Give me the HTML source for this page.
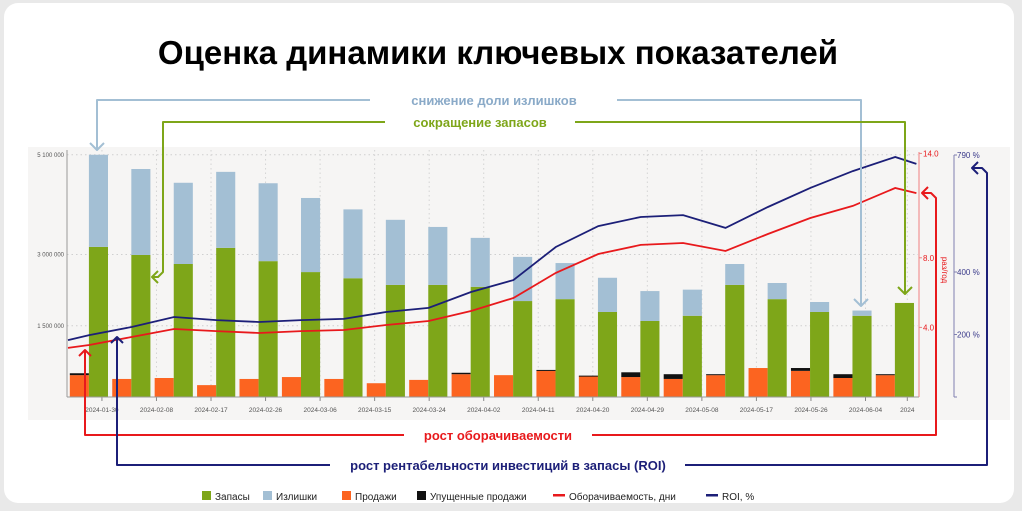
<!DOCTYPE html>
<html><head><meta charset="utf-8">
<style>
html,body{margin:0;padding:0;background:#e9e9e9;}
body{width:1022px;height:511px;overflow:hidden;position:relative;font-family:"Liberation Sans",Arial,sans-serif;}
#card{position:absolute;left:4px;top:3px;width:1010px;height:500px;background:#fff;border-radius:14px;}
svg{position:absolute;left:0;top:0;}
</style></head>
<body>
<div id="card"></div>
<svg id="chart" width="1022" height="511"></svg>
<script>
const weeks = 20;
const stockM = [3.16,2.99,2.80,3.14,2.86,2.63,2.50,2.36,2.36,2.32,2.02,2.06,1.79,1.60,1.71,2.36,2.06,1.79,1.71,1.98];
const excessM = [1.94,1.81,1.71,1.60,1.64,1.56,1.45,1.37,1.22,1.03,0.93,0.76,0.72,0.63,0.55,0.44,0.34,0.21,0.11,0];
const salesM = [0.46,0.38,0.40,0.25,0.38,0.42,0.38,0.29,0.36,0.48,0.46,0.55,0.44,0.42,0.38,0.46,0.61,0.55,0.40,0.46];
const lostM = [0.04,0,0,0,0,0,0,0,0,0.03,0,0.02,0.01,0.1,0.1,0.02,0,0.06,0.08,0.02];
const turnover = [2.82,2.99,3.45,3.91,3.79,3.68,3.79,3.85,4.14,4.37,4.94,5.69,7.13,8.22,8.74,8.85,8.39,9.37,10.29,10.98,12.01,11.72];
const roi = [182,198,224,256,246,240,246,250,272,285,336,374,480,547,576,582,541,608,669,723,768,746];
const leftTicks = [1500000,3000000,5100000];
const leftTickLabels = ["1 500 000","3 000 000","5 100 000"];
const turnTicks = [4,8,14];
const turnTickLabels = ["4.0","8.0","14.0"];
const roiTicks = [200,400,790];
const roiTickLabels = ["200 %","400 %","790 %"];
const dateLabels = ["2024-01-30","2024-02-08","2024-02-17","2024-02-26","2024-03-06","2024-03-15","2024-03-24","2024-04-02","2024-04-11","2024-04-20","2024-04-29","2024-05-08","2024-05-17","2024-05-26","2024-06-04","2024"];

const svg = document.getElementById('chart');
const NS = 'http://www.w3.org/2000/svg';
function mk(tag, attrs, parent){const e=document.createElementNS(NS,tag);for(const k in attrs)e.setAttribute(k,attrs[k]);(parent||svg).appendChild(e);return e;}
const X0=68, PX_DAY=6.06, Y0=397;
const x = d => X0 + d*PX_DAY;
const yM = v => Y0 - v*47.5;
const yT = v => Y0 - v*17.4;
const yR = v => Y0 - v*0.3125;

let e = mk('rect',{x:28,y:147,width:982,height:273,fill:'#f6f5f4'});



leftTicks.forEach((t,i)=>{
  let g = mk('line',{x1:67,x2:918,y1:yM(t/1e6),y2:yM(t/1e6),stroke:'#cfcfcf','stroke-dasharray':'1.5 3'});
  
  
  let l = mk('text',{x:64,y:yM(t/1e6)+2,'font-size':6,fill:'#555','text-anchor':'end'});
  l.textContent = leftTickLabels[i];
  
  
});
dateLabels.forEach((s,i)=>{
  const d = i<15 ? 5.6+9*i : 138.5;
  const xx = x(d);
  let g = mk('line',{x1:xx,x2:xx,y1:150,y2:397,stroke:'#d4d4d4','stroke-dasharray':'1.5 3'});
  
  
  mk('line',{x1:xx,x2:xx,y1:397,y2:401,stroke:'#888'});
  let l = mk('text',{x:xx,y:412,'font-size':6.5,fill:'#555','text-anchor':'middle'});
  l.textContent = s;
  
  
});

for(let k=0;k<weeks;k++){
  const d0=7*k;
  let o = mk('rect',{x:x(d0+0.3),y:yM(salesM[k]),width:x(d0+3.45)-x(d0+0.3),height:Y0-yM(salesM[k]),fill:'#fc6420'});
  
  
  if(lostM[k]>0){
    let b = mk('rect',{x:x(d0+0.3),y:yM(salesM[k]+lostM[k]),width:x(d0+3.45)-x(d0+0.3),height:Math.max(1,yM(salesM[k])-yM(salesM[k]+lostM[k])),fill:'#111'});
    
    
  }
  let g = mk('rect',{x:x(d0+3.45),y:yM(stockM[k]),width:x(d0+6.6)-x(d0+3.45),height:Y0-yM(stockM[k]),fill:'#7ea619'});
  
  
  if(excessM[k]>0){
    let b = mk('rect',{x:x(d0+3.45),y:yM(stockM[k]+excessM[k]),width:x(d0+6.6)-x(d0+3.45),height:yM(stockM[k])-yM(stockM[k]+excessM[k]),fill:'#a3bfd4'});
    
    
  }
}
const lineDays = [0].concat(Array.from({length:weeks},(_,k)=>7*k+3.5)).concat([140]);
function poly(vals, yf, color, name){
  const pts = vals.map((v,i)=>x(lineDays[i]).toFixed(1)+','+yf(v).toFixed(1)).join(' ');
  let p = mk('polyline',{points:pts,fill:'none',stroke:color,'stroke-width':1.8});
  
  
}
poly(turnover,yT,'#e8191c','turnover-line');
poly(roi,yR,'#1c1f78','roi-line');

mk('line',{x1:67,x2:67,y1:150,y2:397,stroke:'#999'});
mk('line',{x1:67,x2:919,y1:397,y2:397,stroke:'#999'});
mk('line',{x1:919,x2:919,y1:152,y2:397,stroke:'#f08080'});
turnTicks.forEach((t,i)=>{
  mk('line',{x1:919,x2:922,y1:yT(t),y2:yT(t),stroke:'#f08080'});
  let l = mk('text',{x:923,y:yT(t)+3,'font-size':8,fill:'#e8191c'});
  l.textContent = turnTickLabels[i];
  
  
});
let rl = mk('text',{x:0,y:0,'font-size':8,fill:'#e8191c','text-anchor':'middle',transform:'translate(942,270) rotate(90)'});
rl.textContent='раз/год';


mk('line',{x1:954,x2:954,y1:155,y2:397,stroke:'#8080b0'});
mk('line',{x1:954,x2:957,y1:397,y2:397,stroke:'#8080b0'});
roiTicks.forEach((t,i)=>{
  const yy = i==2?155:yR(t);
  mk('line',{x1:954,x2:957,y1:yy,y2:yy,stroke:'#8080b0'});
  let l = mk('text',{x:957,y:yy+3,'font-size':8,fill:'#3a3a8a'});
  l.textContent = roiTickLabels[i];
  
  
});
</script>
<svg width="1022" height="511" style="font-family:'Liberation Sans',Arial,sans-serif">
<text x="498" y="64" font-size="33" font-weight="bold" text-anchor="middle" fill="#000">Оценка динамики ключевых показателей</text>
<g fill="none" stroke-width="2" stroke-linejoin="round">
<polyline stroke="#a3bfd4" points="370,100 97,100 97,150"/>
<polyline stroke="#a3bfd4" points="90,143 97,150 104,143"/>
<polyline stroke="#a3bfd4" points="617,100 861,100 861,306"/>
<polyline stroke="#a3bfd4" points="854,299 861,306 868,299"/>
<polyline stroke="#7ea619" points="385,122 163,122 163,272 158,277 152,277"/>
<polyline stroke="#7ea619" points="158,271 152,277 158,283"/>
<polyline stroke="#7ea619" points="575,122 905,122 905,294"/>
<polyline stroke="#7ea619" points="898,287 905,294 912,287"/>
<polyline stroke="#e8191c" points="404,435 85,435 85,350"/>
<polyline stroke="#e8191c" points="79,356 85,350 91,356"/>
<polyline stroke="#e8191c" points="592,435 936,435 936,198 931,193 922,193"/>
<polyline stroke="#e8191c" points="928,187 922,193 928,199"/>
<polyline stroke="#1c1f78" points="330,465 117,465 117,337"/>
<polyline stroke="#1c1f78" points="111,343 117,337 123,343"/>
<polyline stroke="#1c1f78" points="685,465 987,465 987,173 982,168 972,168"/>
<polyline stroke="#1c1f78" points="978,162 972,168 978,174"/>
</g>
<text x="494" y="105" font-size="13" font-weight="bold" fill="#8aaac8" text-anchor="middle">снижение доли излишков</text>
<text x="480" y="127" font-size="13" font-weight="bold" fill="#7ea619" text-anchor="middle">сокращение запасов</text>
<text x="498" y="440" font-size="13" font-weight="bold" fill="#e8191c" text-anchor="middle">рост оборачиваемости</text>
<text x="508" y="470" font-size="13" font-weight="bold" fill="#1c1f78" text-anchor="middle">рост рентабельности инвестиций в запасы (ROI)</text>
<g font-size="10" fill="#222">
<rect x="202" y="491" width="9" height="9" fill="#7ea619"/><text x="215" y="500">Запасы</text>
<rect x="263" y="491" width="9" height="9" fill="#a3bfd4"/><text x="276" y="500">Излишки</text>
<rect x="342" y="491" width="9" height="9" fill="#fc6420"/><text x="355" y="500">Продажи</text>
<rect x="417" y="491" width="9" height="9" fill="#111"/><text x="430" y="500">Упущенные продажи</text>
<rect x="553" y="494" width="12" height="2.5" fill="#e8191c"/><text x="569" y="500">Оборачиваемость, дни</text>
<rect x="706" y="494" width="12" height="2.5" fill="#1c1f78"/><text x="722" y="500">ROI, %</text>
</g>
</svg>
</body></html>
